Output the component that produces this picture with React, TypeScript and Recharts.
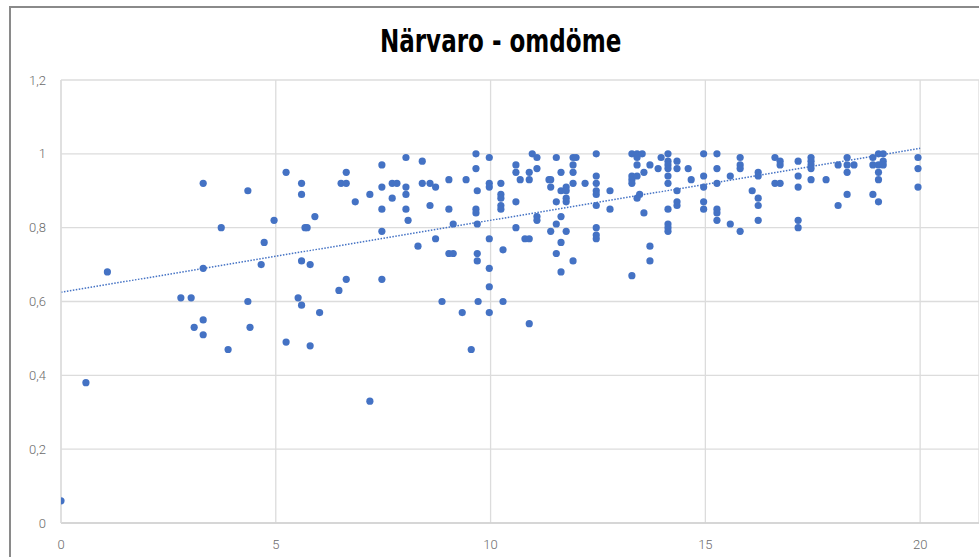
import { ScatterChart, Scatter, XAxis, YAxis, CartesianGrid, ReferenceLine } from "recharts";

// närvaro (x) and omdöme (y), pairwise
const narvaro = [
  0, 0.58, 1.08, 2.79, 3.03, 3.1, 3.31, 3.31, 3.31, 3.31,
  3.73, 3.89, 4.35, 4.35, 4.4, 4.66, 4.73, 4.96, 5.24, 5.24,
  5.52, 5.6, 5.6, 5.6, 5.6, 5.68, 5.73, 5.8, 5.8, 5.91,
  6.02, 6.47, 6.52, 6.64, 6.64, 6.64, 6.85, 7.19, 7.19, 7.47,
  7.47, 7.47, 7.47, 7.47, 7.71, 7.71, 7.82, 8.03, 8.03, 8.03,
  8.03, 8.08, 8.31, 8.41, 8.41, 8.59, 8.59, 8.72, 8.72, 8.87,
  9.03, 9.03, 9.03, 9.13, 9.13, 9.34, 9.43, 9.55, 9.66, 9.66,
  9.66, 9.66, 9.69, 9.69, 9.69, 9.69, 9.71, 9.97, 9.97, 9.97,
  9.97, 9.97, 9.97, 9.97, 10.24, 10.24, 10.24, 10.24, 10.24, 10.29,
  10.29, 10.59, 10.59, 10.59, 10.59, 10.69, 10.8, 10.9, 10.9, 10.9,
  10.9, 10.97, 11.08, 11.08, 11.08, 11.08, 11.36, 11.4, 11.4, 11.4,
  11.53, 11.53, 11.53, 11.53, 11.64, 11.64, 11.64, 11.64, 11.64, 11.76,
  11.76, 11.76, 11.76, 11.76, 11.92, 11.92, 11.92, 11.92, 11.92, 11.99,
  12.2, 12.46, 12.46, 12.46, 12.46, 12.46, 12.46, 12.46, 12.46, 12.46,
  12.78, 12.78, 13.29, 13.29, 13.29, 13.29, 13.29, 13.41, 13.41, 13.41,
  13.41, 13.41, 13.47, 13.53, 13.57, 13.57, 13.71, 13.71, 13.71, 13.9,
  13.97, 14.13, 14.13, 14.13, 14.13, 14.13, 14.13, 14.13, 14.13, 14.13,
  14.13, 14.34, 14.34, 14.34, 14.34, 14.34, 14.6, 14.67, 14.96, 14.96,
  14.96, 14.96, 14.96, 15.27, 15.27, 15.27, 15.27, 15.27, 15.27, 15.58,
  15.58, 15.81, 15.81, 15.81, 15.81, 16.09, 16.23, 16.23, 16.23, 16.23,
  16.23, 16.62, 16.62, 16.74, 16.74, 16.74, 17.16, 17.16, 17.16, 17.16,
  17.16, 17.46, 17.46, 17.46, 17.46, 17.46, 17.81, 18.09, 18.09, 18.3,
  18.3, 18.3, 18.3, 18.46, 18.9, 18.9, 18.9, 19.03, 19.03, 19.03,
  19.03, 19.03, 19.14, 19.14, 19.14, 19.95, 19.95, 19.95,
];
const omdome = [
  0.06, 0.38, 0.68, 0.61, 0.61, 0.53, 0.92, 0.69, 0.55, 0.51,
  0.8, 0.47, 0.9, 0.6, 0.53, 0.7, 0.76, 0.82, 0.95, 0.49,
  0.61, 0.92, 0.89, 0.71, 0.59, 0.8, 0.8, 0.7, 0.48, 0.83,
  0.57, 0.63, 0.92, 0.95, 0.92, 0.66, 0.87, 0.89, 0.33, 0.97,
  0.91, 0.85, 0.79, 0.66, 0.92, 0.88, 0.92, 0.99, 0.91, 0.89,
  0.85, 0.82, 0.75, 0.98, 0.92, 0.92, 0.86, 0.91, 0.77, 0.6,
  0.93, 0.85, 0.73, 0.81, 0.73, 0.57, 0.93, 0.47, 1.0, 0.96,
  0.85, 0.84, 0.9, 0.81, 0.73, 0.71, 0.6, 0.99, 0.92, 0.91,
  0.77, 0.69, 0.64, 0.57, 0.92, 0.89, 0.88, 0.86, 0.85, 0.74,
  0.6, 0.97, 0.95, 0.87, 0.8, 0.93, 0.77, 0.77, 0.95, 0.93,
  0.54, 1.0, 0.99, 0.96, 0.83, 0.82, 0.93, 0.93, 0.91, 0.79,
  0.99, 0.87, 0.81, 0.73, 0.95, 0.9, 0.83, 0.76, 0.68, 0.91,
  0.9, 0.88, 0.87, 0.79, 0.99, 0.97, 0.95, 0.92, 0.71, 0.99,
  0.92, 1.0, 0.94, 0.92, 0.9, 0.89, 0.86, 0.8, 0.78, 0.77,
  0.9, 0.85, 1.0, 0.94, 0.93, 0.92, 0.67, 1.0, 0.99, 0.97,
  0.94, 0.88, 0.89, 1.0, 0.95, 0.84, 0.97, 0.75, 0.71, 0.96,
  0.99, 1.0, 0.98, 0.97, 0.96, 0.94, 0.92, 0.85, 0.81, 0.8,
  0.79, 0.98, 0.96, 0.9, 0.87, 0.86, 0.96, 0.93, 1.0, 0.94,
  0.91, 0.87, 0.85, 1.0, 0.96, 0.92, 0.85, 0.84, 0.82, 0.94,
  0.81, 0.99, 0.97, 0.96, 0.79, 0.9, 0.95, 0.94, 0.88, 0.86,
  0.82, 0.99, 0.92, 0.98, 0.97, 0.92, 0.98, 0.94, 0.91, 0.82,
  0.8, 0.99, 0.98, 0.97, 0.96, 0.93, 0.93, 0.97, 0.86, 0.99,
  0.97, 0.95, 0.89, 0.97, 0.99, 0.97, 0.89, 1.0, 0.97, 0.95,
  0.93, 0.87, 1.0, 0.98, 0.97, 0.99, 0.96, 0.91,
];

// linear trendline ends
const trendX = [0, 20];
const trendY = [0.625, 1.015];

const xTicks = [0, 5, 10, 15, 20];
const yTicks = [0, 0.2, 0.4, 0.6, 0.8, 1, 1.2];

const points = narvaro.map((x, i) => ({ x, y: omdome[i] }));

const BLUE = "#4472c4";
const tickStyle = { fontSize: 13, fill: "#6b6b6b", fontFamily: "Roboto, sans-serif", fontWeight: 300 };

const Dot = (props: any) => <circle cx={props.cx} cy={props.cy} r={3.6} fill={BLUE} />;

export default function App() {
  return (
    <div style={{ position: "absolute", left: 0, top: 0, width: 979, height: 557, overflow: "hidden", background: "#fff" }}>
      <div
        style={{
          position: "absolute", left: 9, top: 6, right: -10, bottom: -10,
          borderLeft: "2px solid #8a8a8a", borderTop: "2px solid #8a8a8a",
        }}
      />
      <div style={{ position: "absolute", left: 0, top: 25, width: 1002, textAlign: "center" }}>
        <span
          style={{
            display: "inline-block", transform: "scaleX(0.72)",
            fontFamily: "'DejaVu Sans', sans-serif",
            fontWeight: 700, fontSize: 32, lineHeight: "32px", color: "#000",
          }}
        >
          Närvaro - omdöme
        </span>
      </div>
      <div style={{ position: "absolute", left: 0, top: 0 }}>
        <ScatterChart width={979} height={557} margin={{ top: 80, right: 0, bottom: 4, left: 0 }}>
          <CartesianGrid stroke="#dcdcdc" strokeWidth={1.3} />
          <XAxis
            type="number" dataKey="x" domain={[0, 21.37]} ticks={xTicks} allowDataOverflow
            height={30} tickLine={false} tickSize={0} tickMargin={17}
            axisLine={{ stroke: "#d0d0d0", strokeWidth: 1.3 }} tick={tickStyle}
          />
          <YAxis
            type="number" dataKey="y" domain={[0, 1.2]} ticks={yTicks} width={61}
            tickLine={false} tickSize={0} tickMargin={15} axisLine={{ stroke: "#dcdcdc", strokeWidth: 1.3 }}
            tick={tickStyle} tickFormatter={(v: number) => String(v).replace(".", ",")}
          />
          <ReferenceLine
            segment={[{ x: trendX[0], y: trendY[0] }, { x: trendX[1], y: trendY[1] }]}
            stroke={BLUE} strokeWidth={1.5} strokeDasharray="1.5 1.5"
          />
          <Scatter data={points} shape={Dot} isAnimationActive={false} />
        </ScatterChart>
      </div>
    </div>
  );
}
